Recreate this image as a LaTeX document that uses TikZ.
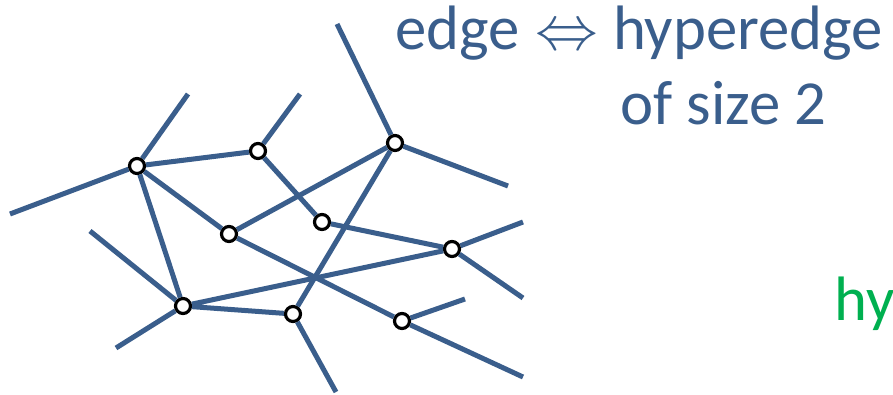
\RequirePackage{fix-cm}
\documentclass[tikz,border=0pt]{standalone}
\usepackage{fontspec}
\setmainfont{Carlito}
\usepackage{tikz}
\usetikzlibrary{}
\usepackage{xcolor}
\definecolor{edgeblue}{HTML}{3A5E8C}
\definecolor{hygreen}{HTML}{00B050}

\begin{document}
\begin{tikzpicture}[x=0.02cm,y=-0.02cm,
        vert/.style={circle,draw=black,line width=1.8pt,fill=white,minimum size=0.3cm,inner sep=0pt},
        hedge/.style={edgeblue,line width=2.85pt},
        lbl/.style={inner sep=0pt,anchor=base west,font=\fontsize{35.7}{43}\selectfont}]
        \useasboundingbox (0,0) rectangle (893,395);

        % Vertices
        \node[vert] (a) at (137,166) {};
        \node[vert] (b) at (258,151) {};
        \node[vert] (c) at (395,143) {};
        \node[vert] (d) at (229,234) {};
        \node[vert] (e) at (322,222) {};
        \node[vert] (f) at (452,249) {};
        \node[vert] (g) at (183,306) {};
        \node[vert] (h) at (293,314) {};
        \node[vert] (i) at (402,321) {};

        % Free ends
        \coordinate (a1) at (10,214);
        \coordinate (a2) at (188,94);
        \coordinate (b1) at (300,94);
        \coordinate (c1) at (337,24);
        \coordinate (c2) at (508,186);
        \coordinate (f1) at (523,222);
        \coordinate (f2) at (523,298);
        \coordinate (g1) at (90,231);
        \coordinate (g2) at (116,348);
        \coordinate (h1) at (336,392);
        \coordinate (i1) at (465,299);
        \coordinate (i2) at (523,377);

        % Edges
        \draw[hedge] (a1) -- (a) -- (a2);
        \draw[hedge] (a) -- (b) -- (b1);
        \draw[hedge] (a) -- (g);
        \draw[hedge] (a) -- (d);
        \draw[hedge] (b) -- (e) -- (f);
        \draw[hedge] (c1) -- (c) -- (c2);
        \draw[hedge] (c) -- (d);
        \draw[hedge] (c) -- (h) -- (h1);
        \draw[hedge] (f1) -- (f) -- (f2);
        \draw[hedge] (f) -- (g) -- (h);
        \draw[hedge] (g1) -- (g) -- (g2);
        \draw[hedge] (d) -- (i) -- (i1);
        \draw[hedge] (i) -- (i2);

        % Labels
        \node[lbl,edgeblue] (top) at (395,50) {edge \makebox[1.3cm]{$\Leftrightarrow$} hyperedge};
        \node[lbl,edgeblue] (size) at (620,125) {of size 2};
        \node[lbl,hygreen] (hy) at (834,320) {hy};
    \end{tikzpicture}
\end{document}
